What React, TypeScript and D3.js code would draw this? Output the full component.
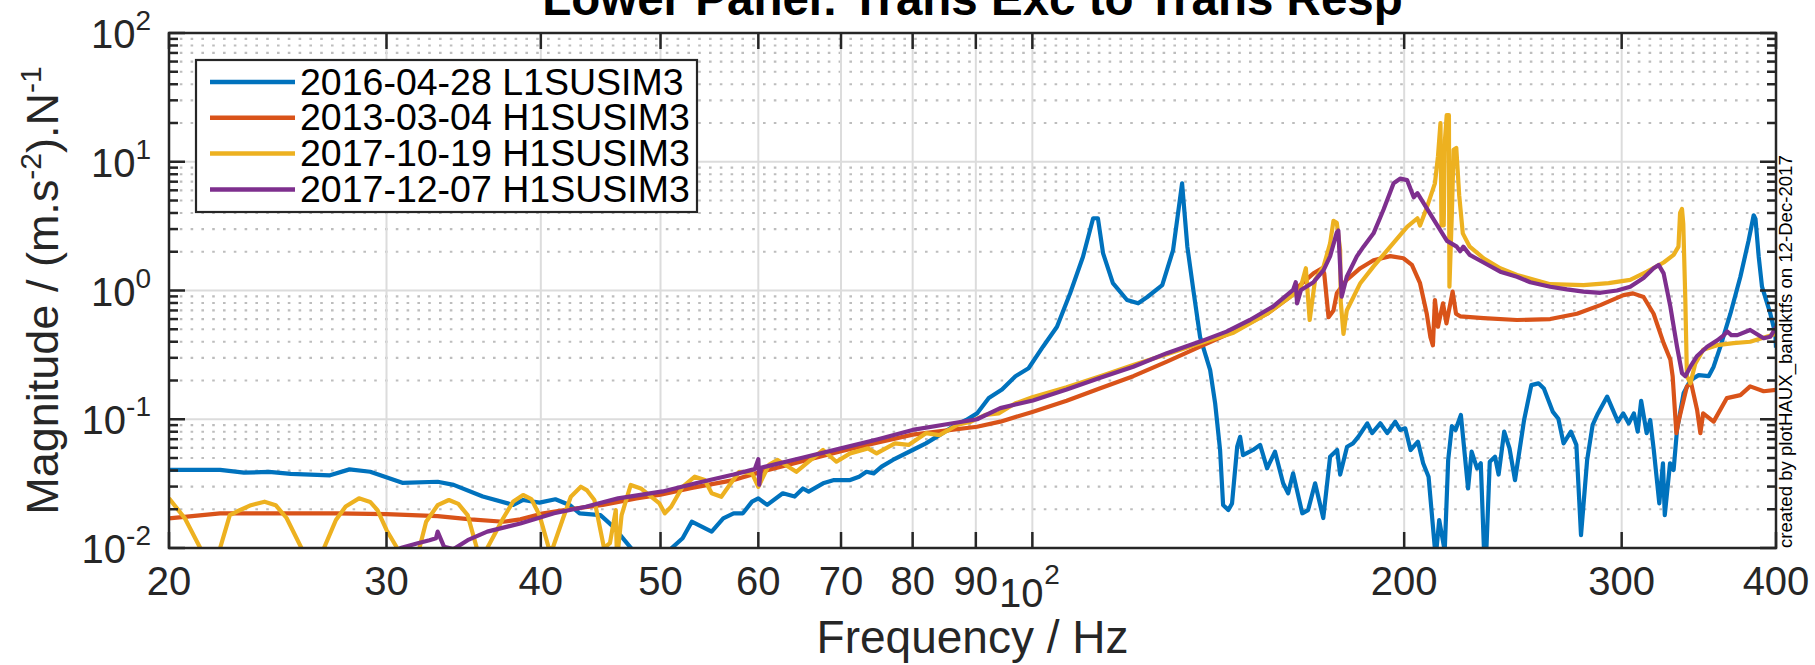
import React from 'react';
import * as d3 from 'd3';

// ---------- data (frequency Hz, magnitude) ----------
const l1_20160428: [number, number][] = [
  [20, 0.0404], [22, 0.0404], [23, 0.0385], [24.1, 0.039], [25.1, 0.0377], [27, 0.0367], [28, 0.0408], [29.1, 0.0391],
  [30.9, 0.0321], [33, 0.0327], [34, 0.0309], [35.9, 0.0251], [38, 0.0216], [38.7, 0.0236], [39.9, 0.0225], [41.1, 0.0239],
  [42.2, 0.0216], [43, 0.0186], [44.7, 0.018], [45.8, 0.0146], [47.4, 0.0098], [48.5, 0.007], [49.8, 0.006], [51, 0.0099],
  [52.1, 0.0119], [53, 0.016], [55, 0.0134], [56.2, 0.017], [57.3, 0.0186], [58.3, 0.0186], [59.3, 0.0229], [60, 0.0243],
  [61, 0.0216], [62.8, 0.0266], [64.2, 0.0251], [65.2, 0.029], [65.9, 0.0274], [67.7, 0.0318], [69.1, 0.0337], [71.2, 0.0337],
  [72.4, 0.0358], [73.4, 0.0391], [74.4, 0.038], [75.5, 0.0429], [77.1, 0.0483], [80, 0.0577], [82, 0.065], [84.1, 0.0753],
  [86.2, 0.0875], [88.4, 0.0987], [90.2, 0.111], [92.2, 0.146], [94.5, 0.17], [96.9, 0.216], [99.3, 0.249], [102, 0.366],
  [104.7, 0.523], [107.3, 0.951], [109.9, 1.83], [112, 3.64], [113, 3.64], [114.1, 1.94], [116.2, 1.14], [119.3, 0.844],
  [121.8, 0.795], [123.9, 0.89], [127.4, 1.1], [130, 2.06], [132.2, 6.8], [133.5, 2.19], [135, 1.01], [136.7, 0.437],
  [139.3, 0.241], [140.6, 0.133], [141.9, 0.0577], [142.7, 0.0216], [144.1, 0.0197], [145.1, 0.0222], [146.5, 0.0612],
  [147.3, 0.073], [148.1, 0.0527], [150.9, 0.0577], [152.9, 0.0632], [154.9, 0.0416], [157.2, 0.056], [159.6, 0.0318],
  [161.1, 0.0266], [162.6, 0.038], [165.4, 0.0186], [167.2, 0.0197], [169.4, 0.0318], [172, 0.0171], [174.2, 0.0511],
  [176.5, 0.0577], [177.5, 0.0372], [179.8, 0.0612], [181.8, 0.065], [183.6, 0.073], [186.7, 0.0929], [188.4, 0.078],
  [191.3, 0.093], [193.8, 0.078], [196.7, 0.0955], [198.5, 0.0826], [200.4, 0.085], [202.4, 0.0577], [205.2, 0.0669],
  [207.2, 0.0455], [209.3, 0.0358], [212.1, 0.0084], [213.5, 0.0165], [215.7, 0.0095], [217.1, 0.0483], [218.6, 0.0883],
  [220.1, 0.0826], [222.3, 0.108], [225.3, 0.029], [226.8, 0.056], [229.1, 0.0416], [230.7, 0.0455], [232.2, 0.0085],
  [233, 0.0085], [234.6, 0.0468], [236.9, 0.0511], [238.5, 0.0372], [241, 0.0802], [243.4, 0.0594], [245.9, 0.0337],
  [250.1, 0.0987], [253.5, 0.184], [256.9, 0.19], [259.5, 0.173], [263.9, 0.114], [266.6, 0.101], [269.2, 0.065],
  [272.9, 0.0802], [275.7, 0.0632], [278.1, 0.0126], [281.3, 0.0483], [284.2, 0.0906], [287, 0.111], [292, 0.15],
  [297.9, 0.0958], [300.9, 0.111], [304, 0.0929], [306.9, 0.111], [309.1, 0.0802], [311.1, 0.139], [314.3, 0.078],
  [316.4, 0.0987], [318.5, 0.0577], [321.8, 0.0222], [324, 0.0455], [325.1, 0.018], [328.3, 0.0455], [330.5, 0.0404],
  [332.6, 0.0826], [336.7, 0.159], [341, 0.201], [346.3, 0.22], [352.8, 0.216], [356.1, 0.256], [360.6, 0.366],
  [367.4, 0.66], [374.3, 1.28], [380.1, 2.45], [383.7, 3.84], [385, 3.6], [387.3, 1.84], [389.7, 1.07], [395.8, 0.66],
  [399.5, 0.46], [400, 0.36],
];

const h1_20130304: [number, number][] = [
  [20, 0.017], [22, 0.0186], [24.1, 0.0186], [27.3, 0.0186], [30, 0.0183], [33, 0.0177], [35.1, 0.0167], [37.3, 0.016],
  [38.5, 0.0167], [40.2, 0.0186], [42.2, 0.02], [44.9, 0.0216], [47.8, 0.0243], [50, 0.026], [53, 0.0293], [57.3, 0.0337],
  [60, 0.0385], [65, 0.047], [70, 0.0565], [75, 0.066], [80, 0.076], [85, 0.0815], [90.2, 0.0875], [94.2, 0.0958],
  [100, 0.114], [106.6, 0.139], [113.5, 0.174], [120.7, 0.216], [128.5, 0.28], [136.7, 0.366], [145.5, 0.479],
  [154.9, 0.66], [161.7, 0.895], [164.7, 1.1], [168.9, 1.36], [171.6, 1.49], [172.3, 1.36], [173.7, 0.62], [175.3, 0.7],
  [176.4, 0.951], [179.7, 1.21], [184.3, 1.49], [188.9, 1.72], [194.9, 1.85], [199.7, 1.78], [202.9, 1.58], [206, 1.14],
  [208.6, 0.66], [210, 0.437], [211, 0.375], [211.8, 0.844], [213, 0.523], [215, 0.795], [216.4, 0.556], [218.9, 0.98],
  [220.3, 0.66], [222, 0.63], [231.9, 0.61], [246.8, 0.59], [262.6, 0.6], [276, 0.66], [288.3, 0.77], [301, 0.92],
  [306.4, 0.95], [312.5, 0.89], [318.4, 0.66], [324.4, 0.39], [328.5, 0.29], [329.9, 0.216], [332.2, 0.078],
  [333.5, 0.0958], [338.8, 0.18], [341.5, 0.19], [345.3, 0.118], [347.4, 0.078], [349.2, 0.111], [356.1, 0.0958],
  [365, 0.146], [374.3, 0.154], [381.2, 0.18], [390.9, 0.165], [400, 0.169],
];

const h1_20171019: [number, number][] = [
  [20, 0.0243], [20.6, 0.017], [21.2, 0.01], [21.6, 0.006], [22, 0.01], [22.4, 0.018], [22.7, 0.0192], [23.3, 0.0215],
  [23.9, 0.0229], [24.4, 0.0215], [24.9, 0.0171], [25.6, 0.01], [26.1, 0.006], [26.7, 0.01], [27.3, 0.0165], [27.8, 0.021],
  [28.5, 0.0243], [29.1, 0.0228], [29.5, 0.0197], [30, 0.0138], [30.6, 0.01], [31.2, 0.006], [31.9, 0.01], [32.3, 0.016],
  [33, 0.0215], [33.7, 0.0236], [34.3, 0.022], [34.9, 0.018], [35.5, 0.01], [35.8, 0.006], [36.2, 0.01], [37.3, 0.0171],
  [38, 0.023], [38.7, 0.0258], [39.3, 0.024], [39.9, 0.018], [40.6, 0.01], [40.9, 0.01], [41.7, 0.0171], [42.3, 0.025],
  [43.1, 0.0299], [43.6, 0.028], [44.2, 0.0236], [45, 0.01], [45.5, 0.0109], [46, 0.0197], [46.1, 0.008], [46.5, 0.018],
  [47.3, 0.0309], [48.2, 0.029], [49.9, 0.0222], [50.4, 0.0186], [51, 0.0209], [52.1, 0.0299], [53.3, 0.0358],
  [54.3, 0.0337], [55, 0.0266], [56, 0.025], [57, 0.0318], [57.9, 0.0391], [59.3, 0.038], [60, 0.0299], [61.2, 0.0442],
  [62.2, 0.0483], [64.4, 0.0391], [65.9, 0.0468], [67.7, 0.0577], [69.4, 0.0468], [71.2, 0.0543], [73.6, 0.0594],
  [74.8, 0.0543], [77.4, 0.065], [79.4, 0.0632], [82, 0.078], [84.1, 0.0753], [87, 0.0906], [89.2, 0.0958],
  [91.6, 0.108], [93.9, 0.111], [96.9, 0.133], [100, 0.148], [106.6, 0.177], [113.5, 0.216], [120.7, 0.264],
  [128.5, 0.32], [136.7, 0.39], [145.5, 0.47], [154.9, 0.66], [161.7, 0.895], [164.7, 1.01], [166.5, 1.49],
  [167.7, 0.59], [169.4, 1.21], [172.1, 1.54], [174.2, 2.32], [175.3, 3.47], [176.4, 3.35], [177.5, 2.06],
  [177.7, 0.82], [178.6, 0.46], [179.7, 0.7], [184.3, 1.14], [188.9, 1.54], [194.9, 2.19], [201.1, 3.12], [205, 3.64],
  [206, 3.2], [208.6, 4.4], [211.8, 6.8], [213, 11], [214, 20], [214.4, 3.2], [215.3, 3.2], [215.8, 14.8], [216.5, 23],
  [217.4, 23], [217.6, 1.07], [218.6, 4], [219.3, 12.4], [220.4, 12.8], [221.6, 5.5], [223.1, 2.78], [224.6, 2.45],
  [226, 2.19], [231.9, 1.78], [239.2, 1.49], [246.8, 1.32], [262.6, 1.12], [279.4, 1.1], [292.8, 1.14], [304.8, 1.21],
  [314.5, 1.4], [324.4, 1.65], [330.5, 1.89], [333.5, 2.19], [334.5, 4], [335.7, 4.3], [336.5, 3.3], [337.8, 0.844],
  [338.8, 0.216], [341, 0.19], [344.1, 0.27], [349.2, 0.346], [358.5, 0.376], [369.5, 0.39], [381.2, 0.4],
  [393, 0.437], [400, 0.46],
];

const h1_20171207: [number, number][] = [
  [30.5, 0.0095], [30.8, 0.01], [31.8, 0.0109], [32.5, 0.0115], [32.9, 0.0119], [33, 0.0134], [33.4, 0.0102],
  [34, 0.0098], [34.9, 0.0115], [36.2, 0.0134], [38.5, 0.0155], [41, 0.0186], [43.5, 0.0209], [46.2, 0.0243],
  [50.2, 0.0275], [53.5, 0.032], [57.3, 0.0372], [59.6, 0.041], [60, 0.049], [60.1, 0.031], [60.3, 0.042], [65, 0.05],
  [70, 0.0594], [75, 0.07], [80, 0.0826], [85, 0.091], [90.2, 0.1], [94.2, 0.122], [100.1, 0.14], [106.6, 0.17],
  [113.5, 0.21], [120.7, 0.256], [128.5, 0.326], [136.7, 0.401], [143.6, 0.479], [150, 0.59], [156.6, 0.75],
  [162.6, 1.01], [163.4, 1.16], [163.8, 0.795], [165, 1.01], [168.9, 1.16], [172.1, 1.44], [174.2, 1.84], [176.4, 2.83],
  [176.9, 2.92], [178, 0.895], [179.7, 1.28], [183.1, 1.84], [185.4, 2.19], [188.9, 2.78], [192.5, 4.28], [196.1, 6.8],
  [198.6, 7.4], [201.1, 7.2], [203.6, 5.3], [205, 5.7], [211.4, 3.54], [216.6, 2.43], [220.6, 2.19], [222, 2.02],
  [223.3, 2.19], [226, 1.89], [231.9, 1.65], [239.2, 1.4], [246.8, 1.28], [253, 1.16], [262.6, 1.07], [270.9, 1.02],
  [279.4, 0.98], [288.3, 0.96], [297.4, 1.0], [304.8, 1.07], [312.5, 1.25], [318.4, 1.49], [321.4, 1.58], [324.4, 1.36],
  [328.5, 0.75], [332.6, 0.366], [335.7, 0.228], [337.8, 0.216], [341, 0.256], [345.3, 0.31], [351.8, 0.366],
  [358.5, 0.41], [363, 0.45], [365.3, 0.48], [368, 0.45], [372.2, 0.45], [381.2, 0.494], [390.9, 0.426],
  [395.8, 0.437], [400, 0.52],
];

const seriesNames = ['2016-04-28 L1SUSIM3', '2013-03-04 H1SUSIM3', '2017-10-19 H1SUSIM3', '2017-12-07 H1SUSIM3'];
const seriesColors = ['#0072BD', '#D95319', '#EDB120', '#7E2F8E'];
const seriesData = [l1_20160428, h1_20130304, h1_20171019, h1_20171207];

const xTicks = [20, 30, 40, 50, 60, 70, 80, 90, 100, 200, 300, 400];
const xTickLabels = ['20', '30', '40', '50', '60', '70', '80', '90', '', '200', '300', '400'];
const yTicks = [0.01, 0.1, 1, 10, 100];
const yTickExponents = ['-2', '-1', '0', '1', '2'];

const titleText = 'Lower Panel: Trans Exc to Trans Resp';
const xLabelText = 'Frequency / Hz';
const creditText = 'created by plotHAUX_bandktfs on 12-Dec-2017';

// ---------- layout ----------
const W = 1815;
const H = 665;
const L = 169, R = 1776, T = 33, B = 548;
const FONT = '"Liberation Sans", Arial, Helvetica, sans-serif';
const AX = '#262626';

export default function App() {
  const x = d3.scaleLog().domain([20, 400]).range([L, R]);
  const y = d3.scaleLog().domain([0.01, 100]).range([B, T]);
  const line = d3.line<[number, number]>().x(d => x(d[0])).y(d => y(d[1]));

  const minorY: number[] = [];
  for (let k = -2; k < 2; k++) for (let m = 2; m <= 9; m++) minorY.push(m * Math.pow(10, k));

  const legX = 196, legY = 60, legW = 501, legH = 152;
  const rowY = (i: number) => 82 + i * 35.8;

  return (
    <svg width={W} height={H} style={{ position: 'absolute', left: 0, top: 0, background: '#fff' }} fontFamily={FONT}>
      <defs>
        <clipPath id="plotclip">
          <rect x={L} y={T} width={R - L} height={B - T} />
        </clipPath>
      </defs>
      <rect x={0} y={0} width={W} height={H} fill="#fff" />

      {/* minor grid */}
      {minorY.map((v, i) => (
        <line key={'mg' + i} x1={L} x2={R} y1={y(v)} y2={y(v)} stroke="#bdbdbd" strokeWidth={2.2} strokeDasharray="2.6 8.2" />
      ))}
      {/* major grid */}
      {yTicks.map((v, i) => (
        <line key={'gy' + i} x1={L} x2={R} y1={y(v)} y2={y(v)} stroke="#dcdcdc" strokeWidth={2} />
      ))}
      {xTicks.map((v, i) => (
        <line key={'gx' + i} x1={x(v)} x2={x(v)} y1={T} y2={B} stroke="#dcdcdc" strokeWidth={2} />
      ))}

      {/* data */}
      <g clipPath="url(#plotclip)">
        {seriesData.map((d, i) => (
          <path key={'s' + i} d={line(d) || ''} fill="none" stroke={seriesColors[i]} strokeWidth={4.2} strokeLinejoin="round" />
        ))}
      </g>

      {/* axes box */}
      <rect x={L} y={T} width={R - L} height={B - T} fill="none" stroke={AX} strokeWidth={2.5} />
      {xTicks.map((v, i) => (
        <g key={'xt' + i}>
          <line x1={x(v)} x2={x(v)} y1={B} y2={B - 16} stroke={AX} strokeWidth={2.5} />
          <line x1={x(v)} x2={x(v)} y1={T} y2={T + 16} stroke={AX} strokeWidth={2.5} />
        </g>
      ))}
      {yTicks.map((v, i) => (
        <g key={'yt' + i}>
          <line x1={L} x2={L + 16} y1={y(v)} y2={y(v)} stroke={AX} strokeWidth={2.5} />
          <line x1={R} x2={R - 16} y1={y(v)} y2={y(v)} stroke={AX} strokeWidth={2.5} />
        </g>
      ))}
      {minorY.map((v, i) => (
        <g key={'ym' + i}>
          <line x1={L} x2={L + 9} y1={y(v)} y2={y(v)} stroke={AX} strokeWidth={2.5} />
          <line x1={R} x2={R - 9} y1={y(v)} y2={y(v)} stroke={AX} strokeWidth={2.5} />
        </g>
      ))}

      {/* x tick labels */}
      {xTicks.map((v, i) =>
        xTickLabels[i] ? (
          <text key={'xl' + i} x={x(v)} y={595} textAnchor="middle" fontSize={40} fill={AX}>{xTickLabels[i]}</text>
        ) : null
      )}
      <text x={x(100) - 11} y={607} textAnchor="middle" fontSize={40} fill={AX}>10</text>
      <text x={x(100) + 12} y={584} textAnchor="start" fontSize={28} fill={AX}>2</text>

      {/* y tick labels */}
      {yTicks.map((v, i) => (
        <text key={'yl' + i} x={151} y={y(v) + 15} textAnchor="end" fontSize={40} fill={AX}>
          10<tspan dy={-18} fontSize={28}>{yTickExponents[i]}</tspan>
        </text>
      ))}

      {/* axis labels */}
      <text x={(L + R) / 2} y={653} textAnchor="middle" fontSize={46} fill={AX}>{xLabelText}</text>
      <text transform={`translate(58,${(T + B) / 2}) rotate(-90)`} textAnchor="middle" fontSize={45} fill={AX}>
        Magnitude / (m.s<tspan dy={-17} fontSize={30}>-2</tspan><tspan dy={17}>).N</tspan><tspan dy={-17} fontSize={30}>-1</tspan>
      </text>

      {/* title */}
      <text x={(L + R) / 2} y={15} textAnchor="middle" fontSize={47.5} fontWeight="bold" fill="#000">{titleText}</text>

      {/* legend */}
      <rect x={legX} y={legY} width={legW} height={legH} fill="#fff" stroke={AX} strokeWidth={2.2} />
      {seriesNames.map((n, i) => (
        <g key={'lg' + i}>
          <line x1={210} x2={295} y1={rowY(i)} y2={rowY(i)} stroke={seriesColors[i]} strokeWidth={4.5} />
          <text x={300} y={rowY(i) + 12.5} fontSize={37.5} fill="#000">{n}</text>
        </g>
      ))}

      {/* credit */}
      <text transform={`translate(1792,${B}) rotate(-90)`} textAnchor="start" fontSize={18.6} fill="#000">{creditText}</text>
    </svg>
  );
}
